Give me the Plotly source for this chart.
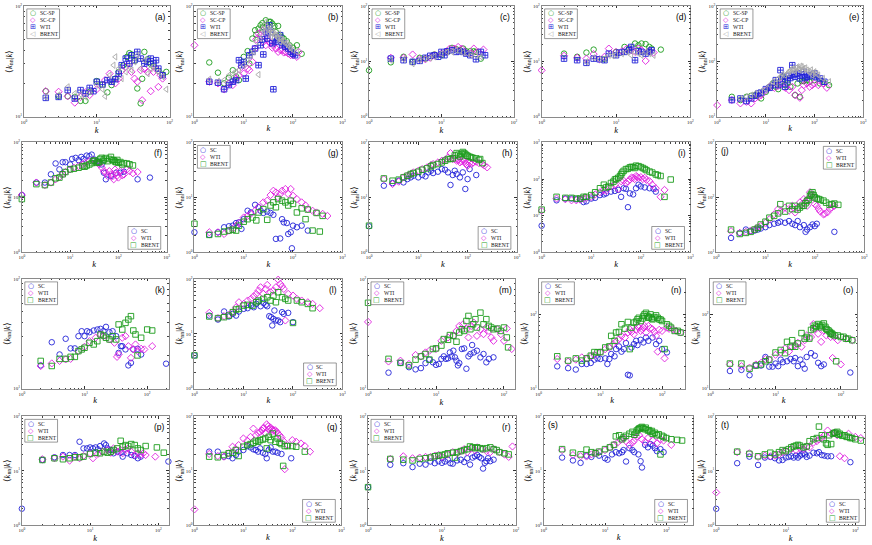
import plotly.graph_objects as go

W, H = 872, 545

# ---------------- tick labels ----------------
TICK_VALS = [1, 10, 100, 1000]
TICK_TEXT = ["10<sup>0</sup>", "10<sup>1</sup>", "10<sup>2</sup>", "10<sup>3</sup>"]

# ---------------- data (k, <knn|k>) ----------------
A_SP_K = [2,3,4,5,6,7,8,10,12,14,16,18,20,23,26,28,30,33,36,40,42,45,50,55,60,70,80,90]
A_SP_Y = [17.0,15.3,15.3,15.1,13.9,13.9,16.8,21.0,19.5,16.6,19.3,22.1,25.4,29.0,34.7,37.5,36.5,32.0,18.0,13.2,22.0,38.5,33.0,30.0,28.5,26.0,24.0,25.4]
A_CP_K = [2,3,4,5,6,7,8,10,13,15,18,20,22,25,28,30,33,36,40,42,45,50,55,60,65,70,75,80]
A_CP_Y = [17.0,16.8,15.3,13.4,15.1,16.6,15.7,17.7,21.4,24.5,20.0,22.1,26.0,28.2,30.2,25.4,22.1,20.7,26.3,14.1,27.0,25.4,17.0,25.4,27.0,18.6,23.7,22.1]
A_WTI_K = [2,3,4,5,6,7,8,9,10,12,14,16,18,20,22,25,28,30,33,36,40,45,50,55,60,65,70,80]
A_WTI_Y = [14.8,15.1,17.4,14.6,17.4,16.2,18.2,17.0,20.7,19.5,21.4,20.7,21.8,24.5,29.2,33.5,30.2,35.9,32.4,38.5,33.5,30.2,31.3,33.5,30.2,32.4,27.2,23.7]
A_BR_K = [2,3,4,5,6,7,8,10,12,13,15,17,18,20,22,25,28,30,33,36,40,45,50,55,60,70,80,90]
A_BR_Y = [15.1,15.7,18.6,16.2,15.9,15.1,16.8,19.3,17.7,15.3,23.7,29.2,34.7,27.2,22.1,25.4,28.2,26.3,31.3,35.9,27.2,32.4,24.5,27.2,28.2,25.4,23.0,17.7]

B_SP_K = [2,3,4,5,6,7,8,10,12,13,15,17,20,22,25,28,30,33,38,42,50,55,65,75,85,100,120,150,18,24,35,45,60]
B_SP_Y = [30.9,25.0,20.0,22.5,26.3,23.0,21.4,34.7,39.1,30.2,50.8,60.4,62.5,67.0,64.7,74.3,67.0,71.8,69.3,66.0,66.0,54.5,50.8,48.0,44.2,42.0,44.2,37.0,55.0,70.0,72.0,58.0,52.0]
B_CP_K = [1,2,3,4,5,6,7,8,9,10,12,13,15,17,20,22,25,28,30,35,40,45,50,60,70,80,100,120,130,18,24,32,38,55,65,90]
B_CP_Y = [44.2,20.7,20.0,17.7,20.0,19.3,22.1,23.7,28.2,24.5,27.2,26.3,31.3,41.3,56.4,54.5,47.4,44.2,50.8,45.8,44.2,41.3,38.5,39.9,38.5,37.2,36.0,34.7,38.5,50.0,60.0,48.0,42.0,40.0,38.0,36.0]
B_WTI_K = [2,3,4,5,6,7,8,9,10,11,13,15,17,20,22,25,28,30,33,40,45,50,55,60,70,80,90,110,24,35,38,48,65,100]
B_WTI_Y = [20.7,20.3,17.7,19.3,20.7,21.4,32.4,29.2,31.3,22.1,35.9,38.5,41.3,29.2,44.2,36.5,58.3,50.8,67.0,17.7,47.4,49.1,54.5,44.2,42.7,41.3,38.5,35.9,50.0,58.0,46.0,52.0,46.0,37.0]
B_BR_K = [2,3,4,5,6,7,8,10,12,14,16,18,20,22,25,28,30,33,36,40,45,50,55,60,70,80,90,100,120,24,26,32,35,38,42,48,52,58,65,75,85]
B_BR_Y = [21.8,20.9,21.4,23.7,24.5,25.4,26.3,29.2,32.4,35.9,38.5,47.4,24.0,50.8,58.3,71.8,62.5,56.4,52.6,58.3,54.5,50.8,47.4,49.1,45.8,44.2,41.3,39.9,38.5,62.0,66.0,60.0,64.0,57.0,55.0,52.0,56.0,50.0,48.0,46.0,43.0]

C_SP_K = [1,2,3,4,5,6,8,10,12,14,16,18,20,22,25,28,30,35]
C_SP_Y = [6.9,9.6,12.1,9.8,11.6,11.2,13.3,12.9,14.8,17.5,16.6,15.9,17.0,15.2,15.2,15.2,14.8,11.2]
C_CP_K = [2,3,4,5,6,7,8,10,12,13,15,17,19,21,25,28,32,38]
C_CP_Y = [11.6,11.6,13.3,10.9,10.9,11.6,12.9,13.8,15.2,17.0,17.0,18.2,17.0,14.8,13.8,17.0,14.8,16.3]
C_WTI_K = [2,3,4,5,6,7,8,9,10,11,12,14,16,18,20,22,25,30,35,40]
C_WTI_Y = [11.2,10.5,9.8,10.2,11.6,12.6,12.9,12.1,14.8,12.9,15.2,15.9,14.8,15.2,14.8,13.8,12.9,10.9,14.8,12.9]
C_BR_K = [2,3,4,5,6,7,8,10,12,14,16,18,20,23,26,30,35]
C_BR_Y = [10.5,10.9,9.1,10.5,11.2,11.6,12.1,13.8,14.8,14.8,15.9,15.2,14.4,13.8,12.9,12.9,12.1]

D_SP_K = [2,3,4,5,7,10,13,15,18,20,22,25,28,30,40]
D_SP_Y = [13.8,12.1,14.4,16.3,10.9,14.8,18.2,17.0,21.0,19.5,21.0,20.5,18.2,17.0,16.3]
D_CP_K = [1,2,3,4,5,6,7,8,10,12,14,16,18,20,22,25,28,32]
D_CP_Y = [6.9,12.6,11.6,11.2,13.5,10.9,12.1,17.0,14.8,15.2,17.0,15.9,14.8,17.0,15.9,10.2,15.2,14.4]
D_WTI_K = [2,3,4,5,6,7,8,10,11,13,15,16,18,20,22,25,28,30]
D_WTI_Y = [11.2,10.5,9.4,11.2,10.9,10.5,13.8,12.9,14.4,14.8,15.9,18.2,10.5,15.2,14.8,13.8,14.8,15.9]
D_BR_K = [4,5,6,7,8,9,10,12,14,16,18,20,22,25,28,32]
D_BR_Y = [9.8,11.6,10.9,11.2,12.9,12.6,13.3,13.8,14.8,12.9,14.8,13.8,12.9,14.8,13.8,12.9]

E_SP_K = [2,3,4,5,6,8,10,12,14,16,18,20,22,25,28,32,40,45,50,55,60,70,80,100,130,150,200]
E_SP_Y = [22.9,20.0,22.9,23.9,24.5,21.4,28.2,34.7,39.9,34.7,31.5,42.8,52.6,37.2,39.9,34.7,24.5,39.9,22.9,44.0,44.0,45.8,42.8,45.8,39.9,42.8,37.2]
E_CP_K = [1,2,3,4,5,6,7,8,10,12,15,18,20,25,30,35,40,50,55,60,70,80,90,100,120,150,180]
E_CP_Y = [16.2,20.0,17.4,18.6,17.4,21.4,22.9,24.5,30.2,34.7,33.3,36.2,39.9,33.3,30.2,34.7,24.5,22.0,30.2,37.2,39.9,34.7,37.2,39.9,37.2,39.9,33.3]
E_WTI_K = [2,3,4,5,6,7,8,10,12,14,16,18,20,23,25,28,30,35,40,45,50,60,70,80,100,130,160,22,32,38,55,65,90,110]
E_WTI_Y = [20.0,21.4,19.2,21.4,23.9,26.3,27.4,31.5,33.3,37.2,45.8,37.2,69.3,52.6,34.7,45.8,54.8,85.3,52.6,60.4,49.1,64.7,52.6,56.4,60.4,49.1,42.8,48.0,50.0,58.0,58.0,50.0,54.0,52.0]
E_BR_K = [3,4,5,6,8,10,12,14,16,18,20,25,28,32,36,40,45,50,55,60,70,80,90,100,120,150,200,22,30,34,38,42,48,52,58,65,75,85,95,110]
E_BR_Y = [21.4,22.9,24.5,26.3,29.0,31.5,37.2,42.8,39.9,49.1,52.6,56.4,60.4,69.3,74.3,64.7,79.6,69.3,79.6,74.3,69.3,63.0,56.4,64.7,56.4,49.1,42.8,58.0,66.0,72.0,70.0,76.0,72.0,82.0,70.0,76.0,66.0,70.0,60.0,60.0]

F_SC_K = [1,2,3,4,5,6,7,8,10,11,13,15,17,19,22,25,28,32,36,40,45,50,55,70,90,110,130,250,450]
F_SC_Y = [11.0,18.6,18.6,26.3,41.4,32.3,43.7,43.7,39.7,50.2,52.4,47.5,54.5,50.2,57.6,56.1,60.0,48.8,45.6,42.5,39.7,28.1,21.3,24.5,28.1,28.1,29.3,21.3,22.9]
F_WTI_K = [1,2,3,4,5,6,7,8,10,12,15,18,20,25,30,35,40,50,60,70,80,90,100,120,150,200,250,45,55,65,75,85,95,110,130,170]
F_WTI_Y = [11.0,18.6,16.7,18.6,21.3,23.5,26.3,28.9,32.3,34.6,37.1,39.7,42.5,45.6,47.5,43.7,39.7,30.1,24.5,26.3,21.3,28.1,22.9,25.2,32.3,27.4,28.9,35.0,28.0,30.0,24.0,32.0,25.0,30.0,26.0,30.0]
F_BR_K = [1,2,3,4,5,6,7,8,10,12,15,18,20,25,30,35,40,45,50,60,70,80,90,100,120,150,200,22,28,32,38,42,48,55,65,75,85,95,110,130,170]
F_BR_Y = [9.3,17.4,16.7,18.6,22.2,22.9,26.3,28.9,32.3,33.2,34.6,37.1,36.1,39.7,45.6,42.5,43.7,52.4,48.8,45.6,54.5,47.5,43.7,42.5,39.7,41.4,38.1,38.0,42.0,47.0,44.0,50.0,46.0,52.0,50.0,48.0,45.0,48.0,44.0,42.0,40.0]

G_SC_K = [1,2,3,4,5,6,7,8,9,10,12,14,17,20,22,25,30,35,40,45,55,60,65,75,80,90,95,100,120,150,200]
G_SC_Y = [2.31,2.07,2.31,2.85,2.97,3.05,3.4,3.5,2.66,4.0,5.7,5.3,7.3,6.6,5.7,5.2,5.5,5.2,4.8,1.75,1.78,4.0,3.5,3.4,2.15,2.31,1.18,3.05,2.85,3.05,2.48]
G_WTI_K = [2,3,4,5,6,7,8,10,12,14,17,20,25,30,35,40,45,50,55,60,70,80,90,100,120,150,180,200,250,300,400,500]
G_WTI_Y = [2.31,2.31,2.15,2.48,2.66,3.05,3.4,4.3,4.6,5.0,5.7,6.6,8.1,8.7,11.0,13.2,12.3,10.0,11.5,13.2,14.2,11.5,14.2,10.7,9.3,8.1,7.1,6.1,5.7,5.3,5.0,4.6]
G_BR_K = [1,2,3,4,5,6,7,8,10,12,15,18,20,25,30,35,40,45,50,60,70,80,90,100,120,150,180,200,250,300,350,400]
G_BR_Y = [3.3,2.07,2.15,2.38,2.48,2.58,2.48,3.05,3.6,4.0,4.3,3.8,5.3,6.1,3.9,7.1,8.1,6.6,9.3,8.7,8.1,7.1,8.7,7.6,5.3,6.3,4.0,6.0,2.48,5.2,2.38,4.6]

H_SC_K = [1,2,3,4,5,6,7,8,10,12,14,16,18,20,25,30,35,40,45,50,55,60,70,80,90,100,110,150]
H_SC_Y = [2.97,16.3,18.2,20.1,18.7,21.5,23.1,24.8,23.1,25.5,24.1,28.5,30.5,27.7,29.3,32.7,31.8,28.5,16.8,25.5,30.5,26.6,23.1,28.5,14.2,21.5,32.7,25.5]
H_WTI_K = [2,3,4,5,6,7,8,10,12,15,18,20,25,30,35,40,45,50,60,70,80,90,100,120,150,200,250,55,65,75,85,95,110,130,170,220]
H_WTI_Y = [21.5,17.5,19.3,23.1,24.8,26.6,28.5,30.5,32.7,35.1,38.7,40.4,43.3,46.4,48.4,53.4,64.0,49.8,46.4,43.3,48.4,42.1,37.6,40.4,44.5,40.4,35.1,50.0,48.0,45.0,46.0,40.0,42.0,43.0,42.0,38.0]
H_BR_K = [1,2,3,4,5,6,7,8,10,12,15,18,20,25,30,35,40,50,60,70,80,90,100,120,150,180,200,45,55,65,75,85,95,110,130,170]
H_BR_Y = [3.05,22.1,20.1,21.0,23.1,24.8,26.6,27.7,29.3,31.8,33.7,36.6,38.7,40.4,43.3,46.4,49.8,51.2,64.0,55.6,67.0,61.4,57.2,53.4,51.2,49.8,42.1,50.0,58.0,60.0,62.0,64.0,58.0,55.0,52.0,48.0]

I_SC_K = [1,2,3,4,5,6,7,8,10,12,15,18,20,25,30,35,40,45,50,55,60,70,80,90,100,120,150,180,200]
I_SC_Y = [5.3,26.2,29.3,29.3,28.0,28.0,23.5,24.6,29.3,30.6,36.4,38.0,40.6,45.3,47.3,50.5,32.6,56.0,54.0,17.0,40.6,38.0,56.0,70.0,63.0,59.0,56.0,54.0,45.3]
I_WTI_K = [1,2,3,4,5,6,7,8,10,12,15,18,20,25,30,35,40,50,60,70,80,90,100,120,150,200,250,300,45,55,65,75,85,110,130,170]
I_WTI_Y = [13.6,29.3,28.0,26.2,26.2,27.4,29.3,30.6,32.6,38.0,43.4,50.5,47.3,63.0,70.0,54.0,87.0,78.0,97.0,108.0,121.0,108.0,113.0,108.0,87.0,56.0,32.6,50.5,90.0,85.0,110.0,100.0,115.0,100.0,95.0,70.0]
I_BR_K = [1,2,3,4,5,6,7,8,10,12,15,18,20,25,30,35,40,45,50,60,70,80,100,120,150,200,250,300,400,22,28,32,38,42,55,65,75,90,110,130,170,220]
I_BR_Y = [14.6,32.6,30.6,30.6,29.3,29.3,32.6,32.6,36.4,43.4,56.0,70.0,59.0,78.0,97.0,108.0,134.0,167.0,187.0,208.0,212.0,232.0,212.0,187.0,160.0,134.0,121.0,32.6,97.0,62.0,85.0,100.0,120.0,150.0,190.0,215.0,200.0,225.0,200.0,175.0,150.0,128.0]

J_SC_K = [2,3,4,5,6,7,8,10,12,15,18,20,25,30,35,40,45,50,60,65,70,80,90,100,110,250]
J_SC_Y = [18.2,22.5,25.9,24.2,24.8,25.9,27.0,28.6,31.2,33.0,34.4,36.0,34.4,37.0,33.0,31.2,37.0,28.6,31.2,23.5,25.9,28.6,32.0,29.9,33.0,23.5]
J_WTI_K = [2,3,4,5,6,7,8,10,12,15,18,20,25,30,35,40,50,60,70,80,90,100,120,150,180,200,250,45,55,65,75,85,110,130,160,220]
J_WTI_Y = [24.2,22.5,23.5,24.8,25.9,28.6,29.9,34.4,39.7,49.0,61.0,55.0,65.0,57.0,70.0,53.0,81.0,93.0,70.0,124.0,100.0,75.0,61.0,49.0,53.0,61.0,70.0,65.0,75.0,85.0,95.0,110.0,70.0,55.0,50.0,65.0]
J_BR_K = [2,3,4,5,6,7,8,10,12,15,18,20,25,30,35,40,50,60,70,80,90,100,120,150,200,250,300,45,55,65,75,85,95,110,130,170,220]
J_BR_Y = [25.9,21.5,22.5,23.5,25.9,27.8,32.0,36.0,42.6,46.0,51.0,75.0,55.0,70.0,61.0,70.0,65.0,70.0,87.0,107.0,124.0,100.0,93.0,87.0,73.0,77.0,73.0,60.0,70.0,78.0,90.0,115.0,110.0,95.0,90.0,80.0,75.0]

K_SC_K = [2,3,4,5,6,7,8,9,10,11,12,14,16,18,20,22,25,28,32,35,38,40,45,50,55,60,70,80,200]
K_SC_Y = [16.3,26.5,20.5,28.5,23.3,23.3,30.1,33.4,30.1,33.4,32.7,33.9,34.6,35.1,33.4,36.6,32.7,33.4,30.1,21.2,24.4,24.4,22.8,16.3,17.2,22.8,23.1,20.5,16.9]
K_WTI_K = [2,3,4,5,6,8,10,12,15,18,20,25,30,33,35,40,45,50,55,60,65,70,80,90,120]
K_WTI_Y = [16.1,17.0,17.9,18.5,18.7,22.0,24.1,27.1,29.1,31.2,30.1,28.1,26.2,19.5,20.5,29.1,30.1,24.4,19.1,22.8,25.3,22.0,23.1,22.8,24.4]
K_BR_K = [2,3,4,5,6,7,8,9,10,12,14,16,18,20,22,25,28,32,35,40,45,50,55,60,65,70,80,100,120]
K_BR_Y = [17.9,16.1,18.7,18.7,19.5,19.5,22.0,22.8,23.6,26.2,25.3,27.1,31.2,30.5,29.1,28.1,30.1,28.1,38.5,34.6,39.8,42.7,45.8,33.9,31.2,20.1,29.1,34.6,33.9]

L_SC_K = [1,2,3,4,5,6,7,8,10,12,14,16,18,20,22,25,28,30,33,36,38,40,42,45,50,55,60,65,80,100]
L_SC_Y = [4.04,21.5,18.2,25.5,20.7,23.1,21.5,25.5,28.5,29.3,32.7,30.5,35.1,38.7,31.8,36.6,33.7,31.8,21.0,20.1,14.2,18.7,26.6,17.5,17.5,16.3,24.8,23.1,24.1,16.3]
L_WTI_K = [2,3,4,5,6,7,8,10,12,14,16,18,20,22,25,28,30,35,40,45,50,55,60,65,70,80,100,120,150,200,250,350]
L_WTI_Y = [24.1,19.3,21.0,22.1,24.8,30.5,37.6,35.1,40.4,43.3,48.4,53.4,61.4,70.5,53.4,65.8,77.8,57.2,61.4,70.5,97.0,81.0,73.6,65.8,17.5,53.4,49.8,43.3,40.4,37.6,35.1,29.3]
L_BR_K = [1,2,3,4,5,6,7,8,10,12,15,18,20,25,30,35,40,45,50,60,70,80,100,120,150,200,250]
L_BR_Y = [4.04,20.7,19.3,20.1,21.5,24.8,27.7,28.5,32.7,33.7,32.7,37.6,40.4,43.3,46.4,40.4,49.8,37.6,57.2,46.4,43.3,40.4,15.8,40.4,37.6,35.1,29.3]

M_SC_K = [2,3,4,5,6,7,8,9,10,11,12,13,14,15,16,17,18,19,20,21,22,24,26,28,30,32,34,36,40,45,50,55,60,70]
M_SC_Y = [14.0,17.2,15.7,15.0,15.4,17.1,18.4,17.4,16.5,16.8,18.7,19.7,18.7,18.9,21.4,19.7,22.2,19.3,18.0,16.3,17.1,23.0,23.3,15.2,19.7,20.7,25.0,21.4,22.2,19.3,20.7,17.4,18.7,19.3]
M_WTI_K = [1,2,3,4,5,6,7,8,10,12,15,18,20,22,25,28,30,33,36,40,45,50,55,60,65,70,80,90,100,110,130]
M_WTI_Y = [40.6,17.7,18.0,16.8,20.3,19.7,21.4,22.2,23.0,27.3,29.3,30.3,33.6,37.3,38.6,34.8,29.3,37.3,40.0,30.3,34.8,31.4,36.1,33.6,29.3,27.3,34.8,31.4,27.3,35.3,23.0]
M_BR_K = [1,2,3,4,5,6,7,8,9,10,12,13,15,16,18,20,22,24,26,28,30,32,35,38,40,45,50,55,60,65,70,80,90,100,110,115]
M_BR_Y = [60.6,18.7,17.2,16.3,18.4,19.7,20.7,18.4,23.0,23.3,24.7,28.3,27.9,30.8,30.3,26.8,32.5,34.8,33.6,41.4,46.0,34.8,38.6,43.0,36.1,49.3,38.6,43.0,37.3,36.1,34.8,35.3,33.6,36.1,29.3,23.8]

N_SC_K = [2,3,4,5,6,7,8,9,10,12,13,14,15,17,18,20,22,24,26,28,30,32,35,38,40,45,50,55,60,70,80,90,100,120]
N_SC_Y = [20.0,18.9,18.1,21.5,21.5,22.2,24.6,25.6,25.1,25.6,21.5,25.1,29.3,27.3,34.1,37.1,31.5,34.1,41.1,15.4,15.1,35.9,39.8,44.1,38.6,45.5,41.9,48.8,44.1,48.8,39.8,44.1,34.1,30.8]
N_WTI_K = [2,3,4,5,6,7,8,10,12,14,16,18,20,22,25,28,30,35,40,45,50,55,60,70,80,85,100,110,120,150,200,32,38,42,48,52,65,75,90,130,170]
N_WTI_Y = [25.1,23.1,24.6,26.4,25.6,27.3,28.4,30.8,34.1,35.9,39.8,42.8,46.4,51.4,48.8,57.0,63.1,54.1,69.9,59.9,66.4,57.0,69.9,63.1,51.4,31.5,59.9,25.6,66.4,63.1,57.0,58.0,62.0,66.0,63.0,70.0,65.0,58.0,62.0,64.0,60.0]
N_BR_K = [2,3,4,5,6,7,8,9,10,12,14,15,17,18,20,22,25,28,30,32,35,40,45,50,55,60,65,70,80,90,100,110,120,140,160,200,38,42,48,52,58,62,68,75,85,95,130,180]
N_BR_Y = [27.3,23.9,25.6,23.9,25.6,27.8,31.1,30.8,31.1,35.9,37.1,51.4,44.1,57.0,58.1,73.6,64.4,79.0,34.1,66.4,77.4,85.8,81.5,95.0,105.0,90.0,100.0,85.8,97.0,85.8,81.5,34.1,73.6,66.4,59.9,57.0,80.0,90.0,88.0,100.0,95.0,92.0,88.0,92.0,90.0,85.0,70.0,60.0]

O_SC_K = [2,3,4,5,6,7,8,9,10,11,12,13,15,17,19,20,22,24,26,28,30,35,40,45,50,55,140]
O_SC_Y = [17.3,17.9,15.2,20.5,20.5,26.7,19.8,19.8,21.8,20.1,24.6,22.7,23.4,25.1,23.4,25.9,20.1,24.6,21.2,18.6,26.7,30.1,27.8,22.3,20.1,21.2,16.5]
O_WTI_K = [2,3,4,5,6,7,8,10,12,14,16,18,20,22,25,28,30,35,38,40,45,50,55,60,70,75,80,90,100,120,150]
O_WTI_Y = [21.2,20.1,19.2,21.2,22.3,25.1,24.6,28.6,30.7,34.9,31.6,36.7,38.6,41.4,36.7,44.9,52.1,49.6,74.1,63.7,54.8,42.7,60.6,52.1,49.6,25.9,49.6,44.9,21.2,47.2,44.9]
O_BR_K = [2,3,4,5,6,7,8,10,12,14,15,17,18,20,22,25,28,30,33,35,40,45,50,55,60,65,70,75,80,85,100,120,150,38,42,48,52,58,62,68,72,90,110,130]
O_BR_Y = [21.8,21.8,18.6,20.5,21.2,23.4,24.6,30.7,33.2,30.1,42.7,36.7,44.9,36.7,40.6,56.0,47.2,49.6,47.2,61.8,70.5,74.1,66.9,75.5,63.7,60.6,54.8,53.7,52.1,23.4,49.6,47.2,44.9,65.0,68.0,70.0,72.0,68.0,62.0,58.0,56.0,52.0,50.0,47.0]

P_SC_K = [1,2,3,4,5,6,7,8,9,10,11,12,13,14,16,17,18,20,22,25,28,30,35,40,45,50,55,140]
P_SC_Y = [2.01,15.8,17.7,19.5,19.5,19.5,34.2,25.8,25.8,26.9,25.8,26.9,24.8,28.5,31.8,29.7,25.8,24.1,21.0,22.5,21.5,18.2,21.0,19.5,18.7,17.0,18.2,14.8]
P_WTI_K = [2,3,4,5,6,7,8,10,11,13,15,18,20,22,25,28,30,33,36,40,45,50,55,60,65,90]
P_WTI_Y = [16.3,17.0,18.2,15.4,18.2,17.0,18.7,21.0,17.0,20.4,22.5,24.1,21.5,25.8,22.5,24.1,21.0,24.8,25.8,22.5,19.5,21.0,19.5,21.0,19.5,18.2]
P_BR_K = [2,3,4,5,6,7,8,10,12,14,16,18,20,22,25,28,30,33,36,40,45,50,55,65,95,120]
P_BR_Y = [15.8,17.0,16.3,17.0,17.7,17.7,18.2,20.4,21.5,21.0,22.5,21.5,22.5,24.1,25.8,35.6,27.7,29.7,28.5,31.0,29.7,25.8,24.1,28.5,26.9,21.5]

Q_SC_K = [2,3,4,5,6,7,8,10,12,14,16,18,20,22,25,28,30,33,36,40,45,50,60,95]
Q_SC_Y = [22.5,22.5,18.2,18.7,17.0,19.5,22.5,24.1,28.5,26.9,24.8,24.1,22.5,25.8,21.5,20.4,17.0,24.1,26.9,22.5,22.5,21.5,20.4,17.0]
Q_WTI_K = [1,2,3,4,5,6,7,8,10,12,14,16,18,20,22,25,28,30,33,36,40,45,50,55,60,65,70,80,100,120,150,180,230,24,26,32,34,38,42,48]
Q_WTI_Y = [1.95,20.4,18.7,18.2,21.0,27.7,24.8,29.7,39.3,35.6,42.1,59.7,45.1,49.8,51.9,59.7,49.8,71.6,57.2,62.2,54.1,55.6,48.4,45.1,40.9,35.6,10.7,29.7,36.6,34.2,31.8,28.5,22.5,55.0,62.0,66.0,60.0,58.0,56.0,52.0]
Q_BR_K = [2,3,4,5,6,7,8,10,12,14,16,18,20,22,25,28,30,33,36,40,45,50,55,60,65,70,80,100,120,180]
Q_BR_Y = [18.2,17.7,19.5,21.0,21.5,24.1,18.7,27.7,29.7,31.0,32.7,35.6,34.2,36.6,37.6,39.3,25.8,42.1,36.6,48.4,34.2,39.3,32.7,31.0,12.3,28.5,28.5,28.5,27.7,22.5]

R_SC_K = [1,2,3,4,5,6,7,8,9,10,11,12,13,14,16,18,20,22,24,26,28,30,32,34,36,38,40,42,45,50]
R_SC_Y = [5.0,12.9,13.8,11.7,13.5,13.0,14.8,13.8,15.0,14.0,14.8,16.0,13.8,13.5,15.5,16.0,14.5,17.0,13.0,17.5,18.5,19.5,18.0,17.0,11.0,14.0,15.0,17.0,15.0,16.0]
R_WTI_K = [2,3,4,5,6,7,8,9,10,12,14,16,18,20,22,25,28,30,35,40,45,50,60,70,80,90]
R_WTI_Y = [16.5,18.5,17.0,17.5,18.0,18.0,19.0,19.5,18.0,20.0,22.0,21.0,23.0,25.0,22.0,26.0,24.0,27.0,25.0,23.0,22.0,25.0,22.0,20.0,18.0,28.0]
R_BR_K = [1,2,3,4,5,6,7,8,9,10,11,12,14,15,16,18,20,22,24,26,28,30,33,36,40,45,50,55,60,70,80]
R_BR_Y = [5.0,16.5,16.0,15.5,16.5,17.0,17.5,18.5,19.0,19.5,20.0,21.0,21.5,17.5,22.0,23.0,24.0,25.0,28.0,27.0,26.0,27.0,26.0,25.0,26.0,27.0,25.0,24.0,22.0,21.0,20.0]

S_SC_K = [2,3,4,5,6,8,10,11,13,15,17,19,20,22,25,28,30,35,38,40,45,50,55,60,65,70,80,90]
S_SC_Y = [17.5,15.5,14.0,19.0,18.0,19.0,17.0,16.0,20.0,22.0,21.0,22.0,24.0,14.8,26.0,24.0,22.0,20.0,15.0,11.5,30.0,27.0,31.0,29.0,26.0,23.0,25.0,22.0]
S_WTI_K = [2,3,4,5,6,7,8,10,12,14,16,18,20,22,25,28,30,33,36,40,45,50,60,70,80,90,120]
S_WTI_Y = [24.0,19.5,18.5,18.3,20.0,21.0,22.0,24.0,27.0,30.0,33.0,37.0,40.0,35.0,30.0,33.0,36.0,42.0,45.0,38.0,34.0,40.0,36.0,32.0,38.0,36.0,30.0]
S_BR_K = [2,3,4,5,6,7,8,10,12,14,15,17,19,20,22,25,28,30,33,36,40,45,50,55,60,70,80,90,100,120,150,180,32,35,38,42,46,52,58,65,75,85]
S_BR_Y = [25.0,21.5,20.0,24.5,22.0,21.0,22.5,25.0,27.0,30.0,43.0,45.0,38.0,41.0,44.0,48.0,52.0,46.0,55.0,60.0,64.0,58.0,55.0,52.0,48.0,45.0,20.0,42.0,40.0,38.0,37.0,36.0,50.0,58.0,62.0,60.0,62.0,56.0,54.0,50.0,47.0,44.0]

T_SC_K = [1,2,3,4,5,6,7,8,9,10,11,12,13,14,15,16,17,18,19,20,22,25,28,30,33,36,40,45,85]
T_SC_Y = [2.0,13.8,18.2,12.8,17.5,18.0,17.0,15.5,15.8,17.5,18.0,18.5,17.5,19.0,17.5,19.0,20.0,21.0,20.0,18.0,19.0,21.5,21.0,22.0,19.5,19.0,18.5,18.5,14.4]
T_WTI_K = [1,2,3,4,5,6,7,8,9,10,12,14,16,18,20,22,25,28,30,33,36,40,45,50,55,60,70,80,100,120]
T_WTI_Y = [4.0,22.0,21.0,18.0,19.0,18.5,19.0,20.0,22.0,23.0,25.0,24.0,26.0,25.0,28.0,27.0,33.0,35.0,38.0,40.0,45.0,55.0,48.0,50.0,45.0,18.5,17.0,48.0,42.0,40.0]
T_BR_K = [2,3,4,5,6,7,8,9,10,11,12,13,14,15,16,18,20,22,25,28,30,33,35,38,40,45,50,55,60,70,80,90,100,120,42,48,52,58,65,75,85]
T_BR_Y = [22.5,20.5,18.5,20.0,21.5,20.0,22.0,24.0,23.0,25.0,27.0,28.0,29.0,30.0,29.0,27.0,28.0,35.0,38.0,40.0,65.0,45.0,38.0,32.0,30.0,31.0,50.0,52.0,48.0,45.0,42.0,40.0,38.0,36.0,45.0,48.0,50.0,46.0,44.0,42.0,40.0]

# ---------------- styles ----------------
GREEN, MAGENTA, BLUE, GRAY = "#1c9c1c", "#e01ee0", "#2424d8", "#a9a9a9"
ROW1 = [("SC-SP", GREEN, "circle-open", "\u25CB"),
        ("SC-CP", MAGENTA, "diamond-open", "\u25C7"),
        ("WTI", BLUE, "square-cross-open", "\u229E"),
        ("BRENT", GRAY, "triangle-left-open", "\u25C1")]
ROWN = [("SC", BLUE, "circle-open", "\u25CB"),
        ("WTI", MAGENTA, "diamond-open", "\u25C7"),
        ("BRENT", GREEN, "square-open", "\u25A1")]

# panel: tag, x pixel span, y pixel span, log ranges, legend corner, label corner, series
PANELS = [
    ("a", (21, 168), (3, 115), (0, 2), (1, 2), "tl", "tr", ROW1, [(A_SP_K, A_SP_Y), (A_CP_K, A_CP_Y), (A_WTI_K, A_WTI_Y), (A_BR_K, A_BR_Y)]),
    ("b", (193, 342), (3, 115), (0, 3), (1, 2), "tl", "tr", ROW1, [(B_SP_K, B_SP_Y), (B_CP_K, B_CP_Y), (B_WTI_K, B_WTI_Y), (B_BR_K, B_BR_Y)]),
    ("c", (369, 515), (3, 115), (0, 2), (0, 2), "tl", "tr", ROW1, [(C_SP_K, C_SP_Y), (C_CP_K, C_CP_Y), (C_WTI_K, C_WTI_Y), (C_BR_K, C_BR_Y)]),
    ("d", (543, 693), (3, 115), (0, 2), (0, 2), "tl", "tr", ROW1, [(D_SP_K, D_SP_Y), (D_CP_K, D_CP_Y), (D_WTI_K, D_WTI_Y), (D_BR_K, D_BR_Y)]),
    ("e", (720, 867), (3, 115), (0, 3), (1, 3), "tl", "tr", ROW1, [(E_SP_K, E_SP_Y), (E_CP_K, E_CP_Y), (E_WTI_K, E_WTI_Y), (E_BR_K, E_BR_Y)]),
    ("f", (19, 165), (141, 252), (0, 3), (0, 2), "br", "tr", ROWN, [(F_SC_K, F_SC_Y), (F_WTI_K, F_WTI_Y), (F_BR_K, F_BR_Y)]),
    ("g", (193, 342), (141, 252), (0, 3), (0, 2), "tl", "tr", ROWN, [(G_SC_K, G_SC_Y), (G_WTI_K, G_WTI_Y), (G_BR_K, G_BR_Y)]),
    ("h", (369, 518), (141, 252), (0, 3), (0, 2), "br", "tr", ROWN, [(H_SC_K, H_SC_Y), (H_WTI_K, H_WTI_Y), (H_BR_K, H_BR_Y)]),
    ("i", (543, 693), (141, 252), (0, 3), (0, 3), "br", "tr", ROWN, [(I_SC_K, I_SC_Y), (I_WTI_K, I_WTI_Y), (I_BR_K, I_BR_Y)]),
    ("j", (719, 868), (141, 252), (0, 3), (1, 3), "tr", "tl", ROWN, [(J_SC_K, J_SC_Y), (J_WTI_K, J_WTI_Y), (J_BR_K, J_BR_Y)]),
    ("k", (19, 167), (279, 390), (0, 2.342), (1, 2), "tl", "tr", ROWN, [(K_SC_K, K_SC_Y), (K_WTI_K, K_WTI_Y), (K_BR_K, K_BR_Y)]),
    ("l", (193, 342), (279, 390), (0, 3), (0, 2), "br", "tr", ROWN, [(L_SC_K, L_SC_Y), (L_WTI_K, L_WTI_Y), (L_BR_K, L_BR_Y)]),
    ("m", (368, 516), (279, 390), (0, 2.16), (1, 2), "tl", "tr", ROWN, [(M_SC_K, M_SC_Y), (M_WTI_K, M_WTI_Y), (M_BR_K, M_BR_Y)]),
    ("n", (540, 688), (279, 390), (0, 2.38), (1, 2.477), "tl", "tr", ROWN, [(N_SC_K, N_SC_Y), (N_WTI_K, N_WTI_Y), (N_BR_K, N_BR_Y)]),
    ("o", (713, 861), (279, 390), (0, 2.25), (1, 2.477), "tl", "tr", ROWN, [(O_SC_K, O_SC_Y), (O_WTI_K, O_WTI_Y), (O_BR_K, O_BR_Y)]),
    ("p", (19, 167), (418, 528), (0, 2.15), (0, 2), "tl", "tr", ROWN, [(P_SC_K, P_SC_Y), (P_WTI_K, P_WTI_Y), (P_BR_K, P_BR_Y)]),
    ("q", (193, 341), (418, 528), (0, 3), (0, 2), "br", "tr", ROWN, [(Q_SC_K, Q_SC_Y), (Q_WTI_K, Q_WTI_Y), (Q_BR_K, Q_BR_Y)]),
    ("r", (368, 517), (418, 528), (0, 2), (0, 2), "tl", "tr", ROWN, [(R_SC_K, R_SC_Y), (R_WTI_K, R_WTI_Y), (R_BR_K, R_BR_Y)]),
    ("s", (545, 696), (418, 528), (0, 2.44), (0, 2), "br", "tl", ROWN, [(S_SC_K, S_SC_Y), (S_WTI_K, S_WTI_Y), (S_BR_K, S_BR_Y)]),
    ("t", (719, 869), (418, 528), (0, 2.14), (0, 2), "br", "tl", ROWN, [(T_SC_K, T_SC_Y), (T_WTI_K, T_WTI_Y), (T_BR_K, T_BR_Y)]),
]

MINOR_VALS = [m * 10 ** e for e in range(4) for m in range(2, 10)]
SERIF = "Liberation Serif"
SANS = "Liberation Sans"

fig = go.Figure()
layout = dict(width=W, height=H, margin=dict(l=0, r=0, t=0, b=0),
              paper_bgcolor="white", plot_bgcolor="white", showlegend=False,
              font=dict(family=SERIF, color="black"))
shapes, annotations = [], []


def px(x):
    return x / W


def py(y):
    return 1 - y / H


def axis_common():
    return dict(type="log", showgrid=False, zeroline=False,
                tickmode="array", tickvals=TICK_VALS, ticktext=TICK_TEXT,
                ticks="inside", ticklen=2.5, tickwidth=0.6, tickcolor="#333",
                showline=True, linecolor="#8a8a8a", linewidth=0.8, mirror="allticks",
                tickfont=dict(size=5, family=SERIF, color="#222"),
                minor=dict(tickmode="array", tickvals=MINOR_VALS, ticks="inside",
                           ticklen=1.3, tickwidth=0.5, tickcolor="#444"))


for i, (tag, xs, ys, xr, yr, leg, lab, styles, series) in enumerate(PANELS):
    sfx = "" if i == 0 else str(i + 1)
    xa = axis_common()
    xa.update(domain=[px(xs[0]), px(xs[1])], range=list(xr), anchor="y" + sfx,
              title=dict(text="<i>k</i>", font=dict(size=8.5, family=SERIF, color="black"), standoff=1))
    ya = axis_common()
    ya.update(domain=[py(ys[1]), py(ys[0])], range=list(yr), anchor="x" + sfx,
              title=dict(text="\u27E8<i>k</i><sub>nn</sub>|<i>k</i>\u27E9",
                         font=dict(size=8.5, family=SERIF, color="black"), standoff=1))
    layout["xaxis" + sfx] = xa
    layout["yaxis" + sfx] = ya

    for (name, color, symbol, glyph), (kk, vv) in zip(styles, series):
        fig.add_trace(go.Scatter(x=kk, y=vv, mode="markers", name=name,
                                 xaxis="x" + sfx, yaxis="y" + sfx, cliponaxis=False,
                                 marker=dict(symbol=symbol, size=5.5, color=color,
                                             line=dict(color=color, width=0.9))))

    # legend box
    n = len(styles)
    bw, bh = 33, 7 * n + 2
    if leg == "tl":
        bx, by = xs[0] + 3, ys[0] + 3
    elif leg == "tr":
        bx, by = xs[1] - 8 - bw, ys[0] + 4
    else:
        bx, by = xs[1] - 6 - bw, ys[1] - 3 - bh
    shapes.append(dict(type="rect", xref="paper", yref="paper",
                       x0=px(bx), x1=px(bx + bw), y0=py(by + bh), y1=py(by),
                       line=dict(color="#555", width=0.6), fillcolor="white", layer="above"))
    for j, (name, color, symbol, glyph) in enumerate(styles):
        cy = by + 4.5 + 7 * j
        annotations.append(dict(xref="paper", yref="paper", x=px(bx + 6), y=py(cy),
                                text=glyph, showarrow=False, xanchor="center", yanchor="middle",
                                font=dict(size=7, color=color, family="DejaVu Sans")))
        annotations.append(dict(xref="paper", yref="paper", x=px(bx + 11), y=py(cy),
                                text=name, showarrow=False, xanchor="left", yanchor="middle",
                                font=dict(size=5.5, color="#111", family=SERIF)))
    # panel label
    if lab == "tr":
        lx, ly = xs[1] - 9, ys[0] + 11
    else:
        lx, ly = xs[0] + 9, ys[0] + 9
    annotations.append(dict(xref="paper", yref="paper", x=px(lx), y=py(ly),
                            text="(" + tag + ")", showarrow=False, xanchor="center",
                            yanchor="middle", font=dict(size=8.5, family=SANS, color="black")))

layout["shapes"] = shapes
layout["annotations"] = annotations
fig.update_layout(**layout)
fig.write_html("out.html", config={"displayModeBar": False},
               post_script="document.body.style.margin='0px';document.body.style.overflow='hidden';")
